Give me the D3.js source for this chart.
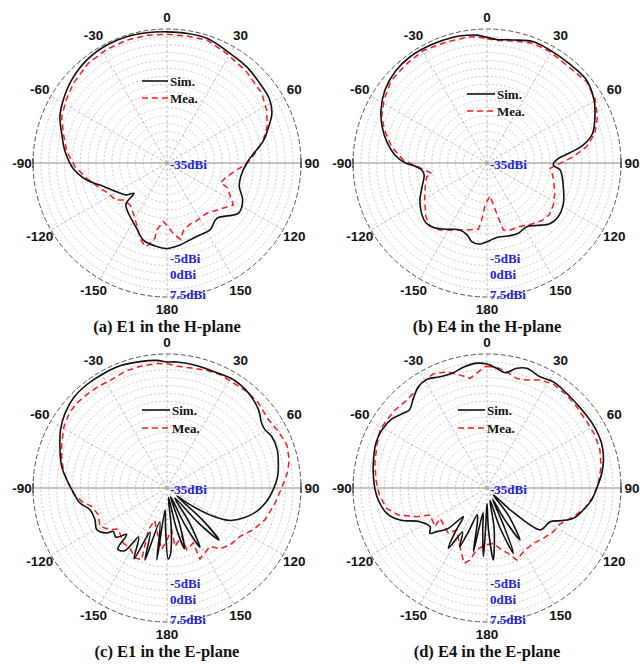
<!DOCTYPE html>
<html><head><meta charset="utf-8">
<script src="https://cdn.jsdelivr.net/npm/d3@7"></script>
<style>body{margin:0;background:#fff}svg{display:block}</style>
</head><body><svg id="c" width="640" height="664"></svg>
<script>
// ---- data: [angle in degrees clockwise from 0, gain in dBi] ----
const angleTicks = [0,30,60,90,120,150,180,-150,-120,-90,-60,-30];
const radialTicks = [-35,-5,0,7.5];
const radialDomain = [-35,7.5];
const seriesNames = ["Sim.","Mea."];
const captions = ["(a) E1 in the H-plane","(b) E4 in the H-plane","(c) E1 in the E-plane","(d) E4 in the E-plane"];

const simA = [[0,6.6],[9,6.6],[18,6.5],[30,5.1],[40,4.6],[49,3.8],[58,3.3],[65,1.7],[70,-0.6],[77,-3.6],[84,-7.5],[90,-9.7],[100,-11.2],[108,-10.9],[116,-8.3],[125,-7.3],[138,-11.4],[147,-9.8],[155,-9.9],[166,-9.3],[171,-8.7],[180,-7.9],[187,-8.3],[197,-9.4],[205,-12.2],[217.5,-14.9],[225,-16.6],[227.4,-20.8],[231.6,-18.7],[240.3,-16.6],[251.8,-12.6],[258,-9.0],[266.7,-5.2],[276.3,-2.5],[285.7,-0.3],[293.4,2.0],[301.3,3.5],[311,5.1],[322,6.4],[333,7.0],[342.3,7.05],[351,6.8]];
const meaA = [[0,5.8],[9,5.75],[18,6.0],[28.5,4.6],[41,3.4],[53.6,2.3],[62,0.8],[70,-1.2],[76.6,-3.6],[83.7,-6.9],[90.2,-9.5],[95.7,-12.8],[103,-15.6],[110,-16.9],[112.4,-14.0],[118,-12.3],[122.3,-10.1],[131,-12.7],[142,-14.7],[153,-14.4],[159,-14.3],[166,-13.1],[170,-10.4],[175,-12.6],[179,-14.8],[183.6,-16.4],[188.8,-13.5],[189.1,-10.8],[192.8,-8.3],[194.7,-7.6],[199.7,-9.6],[205,-12.7],[213.8,-15.8],[221.4,-17.3],[229.7,-16.9],[234.6,-14.8],[242.7,-14.1],[249.3,-12.3],[259.2,-9.1],[267.7,-5.8],[276.4,-3.0],[286,-0.8],[293.7,1.5],[302,2.7],[310.4,4.0],[321.7,5.3],[332,5.8],[341.8,6.0],[351,6.0]];

const simB = [[0,4.85],[4.5,4.3],[12,4.9],[21,6.2],[29,6.0],[40,5.9],[50,6.1],[59.5,4.4],[65.3,2.7],[74.3,-0.2],[79.4,-3.9],[83,-8.5],[87,-12.7],[91.7,-14.0],[95.5,-11.7],[107,-9.7],[119,-7.4],[127,-6.7],[134,-7.3],[141.5,-9.7],[148,-11.2],[156,-10.6],[163.7,-10.9],[172.6,-11.2],[177.8,-10.4],[184.9,-9.2],[191,-9.6],[195.3,-11.3],[202,-12.1],[211.3,-10.4],[219.7,-8.4],[225.6,-7.9],[232.4,-8.8],[241.1,-10.7],[250,-13.1],[259.2,-14.7],[263.9,-14.2],[267.6,-12.1],[270.2,-9.0],[275,-5.7],[282,-2.5],[289.1,0.2],[296.6,2.6],[305.6,4.8],[314.8,6.1],[324.1,6.6],[334.2,6.5],[345,6.3],[351,6.0],[355.4,5.7]];
const meaB = [[0,4.4],[4.5,4.0],[12.2,4.6],[21.2,5.7],[29.5,5.6],[40.2,5.0],[50.8,5.8],[59.1,4.9],[67.2,3.0],[74.6,0.5],[80.7,-3.0],[85.8,-7.5],[90.3,-11.8],[94.8,-14.9],[100.4,-13.8],[112.9,-11.6],[122.3,-10.1],[129.8,-9.3],[136.5,-9.8],[143.8,-11.0],[152.6,-12.3],[161,-12.5],[166.3,-13.1],[169.1,-18.7],[174.8,-24.5],[182.7,-21.7],[185.3,-16.8],[187.4,-13.8],[196.9,-12.8],[206.7,-11.2],[215.1,-9.05],[222.1,-8.05],[228.7,-9.2],[239.3,-12.0],[249,-14.0],[257.2,-15.4],[259.4,-17.1],[264.3,-14.7],[268.1,-12.2],[272,-8.45],[279.7,-4.3],[287.1,-1.2],[293.7,1.5],[301.5,3.3],[310.2,5.0],[320.1,5.5],[330.5,6.0],[341.6,5.5],[350.8,5.4],[355.3,5.2]];

const simC = [[0,4.96],[4.4,5.1],[12.1,5.0],[21.7,4.8],[31.5,5.3],[40.6,4.7],[49.4,3.2],[55.5,1.4],[59.2,1.15],[63.7,2.0],[70.8,2.0],[77.3,1.2],[84,0.3],[90.9,-1.3],[97.6,-3.1],[104.6,-5.6],[111.5,-9.0],[117.2,-12.5],[121.4,-17.8],[126,-26],[129,-31],[132,-20],[135,-11.7],[138,-20],[142,-31],[147,-22],[151,-13.5],[154,-22],[158,-32],[161,-22],[164,-15],[167,-22],[171,-32],[174,-22],[177,-14],[179,-12.5],[182,-22],[185,-28],[188,-12],[192,-24],[197,-11.1],[201,-20],[205,-10.3],[210,-17],[214,-11],[218.9,-10.1],[221,-15.5],[226,-12.5],[231.1,-13.1],[233.3,-11.1],[239.4,-9.1],[246.3,-10.05],[254.3,-9.6],[260.2,-7.0],[269,-4.8],[274.7,-3.1],[281.6,-0.9],[289.7,1.05],[298.7,3.5],[306.3,5.1],[313.9,6.2],[322.1,6.5],[330,6.5],[339,6.5],[347.9,6.0],[355.4,5.6]];
const meaC = [[0,4.4],[5.3,3.75],[11.6,3.85],[18.6,4.4],[25.1,4.7],[32.3,4.4],[39.5,4.7],[47.1,4.6],[56,3.8],[63,4.6],[70.1,5.4],[77,4.8],[82.9,3.45],[90,1.4],[97.9,-0.4],[107.9,-2.3],[115.8,-4.6],[123.5,-7.2],[132,-8.1],[139,-9.4],[143.6,-12.0],[155.1,-10.2],[154.4,-15.7],[162.3,-14.5],[163.1,-19.0],[172.2,-16.3],[173.6,-21.7],[180,-18.6],[185,-15.4],[194,-21.4],[201,-24],[204,-20.5],[199.5,-10.9],[204.6,-10.6],[211.7,-12.6],[218.4,-12.7],[229.9,-14.8],[233.8,-12.6],[240.2,-10.5],[248.8,-11.6],[256.3,-10.4],[261.1,-7.6],[266.9,-5.25],[272.9,-3.7],[278.3,-2.0],[285.1,-0.4],[293.1,1.3],[300.9,3.05],[307.5,4.05],[313.3,4.3],[319.3,4.05],[326,3.9],[332.9,3.6],[340.2,4.3],[347.5,4.5],[355.25,4.6]];

const simD = [[0,4.3],[4.6,3.1],[8.9,2.0],[13.9,4.1],[18.3,5.0],[25.5,4.1],[32,4.7],[41.2,4.2],[51.6,4.0],[59.4,4.2],[68.7,4.0],[76.5,3.0],[82.7,1.7],[89.3,0.0],[96.5,-1.6],[102.9,-3.7],[109.4,-6.0],[114.1,-9.6],[118.1,-12.3],[123.7,-12.9],[128.4,-13.6],[133,-24],[137,-32],[142,-24],[147.6,-15.5],[151,-24],[154,-31],[156,-22],[158,-12.7],[162,-22],[166,-31],[170,-22],[175,-12.1],[178,-22],[180,-30],[182,-22],[183,-13.2],[186,-22],[189,-27],[192,-14.4],[196,-24],[200,-26],[203,-20],[205,-14.5],[209,-19],[212.7,-12.3],[216,-18],[219.5,-23.2],[224,-17],[229,-13.9],[231.5,-11.9],[235.8,-13.2],[243.3,-11.2],[249.8,-5.6],[255.8,-2.2],[263.7,-0.3],[269,0.5],[275.7,1.2],[282.2,1.9],[291.9,3.0],[298.8,3.1],[305.8,2.3],[311.7,0.6],[315.1,-0.1],[320.6,1.8],[325.9,3.8],[331,4.4],[337.1,3.3],[343.7,3.1],[348.9,4.0],[354.5,4.7]];
const meaD = [[0,3.6],[4.6,3.4],[9.6,2.4],[15.1,1.0],[20.2,1.5],[26.1,3.15],[32.5,4.1],[40.6,3.8],[47.8,3.4],[56.4,3.0],[63.9,3.15],[71.4,2.8],[79.4,1.8],[87.6,0.3],[94.7,-1.2],[101.7,-3.3],[108.4,-6.15],[116.3,-9.2],[123.4,-9.8],[131.8,-11.05],[140.1,-12.1],[150.3,-11.7],[157.6,-10.3],[161.9,-13.2],[166.7,-14.8],[173.5,-17.3],[182,-16.9],[189.5,-15.1],[193.3,-11.5],[197,-10.0],[204.7,-14.5],[215.8,-18.6],[220.5,-16.1],[237.2,-17.3],[233.4,-14.45],[244.7,-15.0],[247.8,-10.9],[253.1,-5.6],[258.5,-2.5],[266.3,-0.8],[274.1,0.3],[282.4,1.4],[291.3,2.5],[298.5,3.6],[304.1,3.4],[310.3,3.25],[316.5,2.75],[322.1,3.05],[328,4.1],[334.8,5.0],[340.9,4.05],[346.6,1.8],[351.2,0.2],[359.1,3.5]];

// ---- layout ----
const panels = [
  {cx:167, cy:163, sim:simA, mea:meaA, cap:captions[0], lg:{x0:-25,x1:1,y0:-82,y1:-65}},
  {cx:487, cy:163, sim:simB, mea:meaB, cap:captions[1], lg:{x0:-20,x1:8,y0:-69,y1:-52}},
  {cx:167, cy:488, sim:simC, mea:meaC, cap:captions[2], lg:{x0:-25,x1:3,y0:-78,y1:-60}},
  {cx:487, cy:488, sim:simD, mea:meaD, cap:captions[3], lg:{x0:-29,x1:-2,y0:-78,y1:-60}}
];
const R = 134;
const r = d3.scaleLinear().domain(radialDomain).range([0,R]);
const rad = d => d*Math.PI/180;
const ringVals = d3.range(-32.5, 7.5, 2.5);
const spokeAngles = d3.range(0, 360, 30);
const labelR = a => (Math.abs(a)===90 ? 145 : (a===0||a===180) ? 146 : 147);

const svg = d3.select("#c");
svg.append("rect").attr("width",640).attr("height",664).attr("fill","#fff");

const lineSim = d3.lineRadial().angle(d=>rad(d[0])).radius(d=>r(d[1])).curve(d3.curveCatmullRomClosed.alpha(0.5));
const lineMea = d3.lineRadial().angle(d=>rad(d[0])).radius(d=>r(d[1])).curve(d3.curveLinearClosed);

panels.forEach(p => {
  const g = svg.append("g").attr("transform",`translate(${p.cx},${p.cy})`);
  // rings
  g.selectAll("circle.ring").data(ringVals).join("circle")
    .attr("r", d=>r(d)).attr("fill","none").attr("stroke","#bcbcbc")
    .attr("stroke-width",0.8).attr("stroke-dasharray","2,2");
  // spokes
  g.selectAll("line.spoke").data(spokeAngles.filter(a=>a%180!==90)).join("line")
    .attr("x1",0).attr("y1",0)
    .attr("x2", a=>R*Math.sin(rad(a))).attr("y2", a=>-R*Math.cos(rad(a)))
    .attr("stroke","#b0b0b0").attr("stroke-width",0.8).attr("stroke-dasharray","3,2");
  // outer circle
  g.append("circle").attr("r", r(radialDomain[1])).attr("fill","none")
    .attr("stroke","#555").attr("stroke-width",1).attr("stroke-dasharray","5,2.5");
  // horizontal axis
  g.append("line").attr("x1",-R).attr("x2",R).attr("y1",0).attr("y2",0)
    .attr("stroke","#8a8a8a").attr("stroke-width",1.2);
  [-R,R].forEach(x => g.append("line").attr("x1",x).attr("x2",x).attr("y1",-5).attr("y2",5)
    .attr("stroke","#333").attr("stroke-width",1.2));
  // curves
  g.append("path").attr("d", lineMea(p.mea)).attr("fill","none")
    .attr("stroke","#ff1a1a").attr("stroke-width",1.5).attr("stroke-dasharray","6,4");
  g.append("path").attr("d", lineSim(p.sim)).attr("fill","none")
    .attr("stroke","#111").attr("stroke-width",1.6);
  // angle labels
  g.selectAll("text.ang").data(angleTicks).join("text")
    .attr("x", a => labelR(a)*Math.sin(rad(a)))
    .attr("y", a => -labelR(a)*Math.cos(rad(a)))
    .attr("text-anchor","middle").attr("dominant-baseline","central")
    .attr("font-family","'Liberation Sans', Arial, sans-serif").attr("font-weight","bold")
    .attr("font-size",13.5).attr("fill","#111").text(a=>a);
  // radial labels
  g.selectAll("text.rl").data(radialTicks).join("text")
    .attr("x", 3).attr("y", v => r(v) + (v===radialDomain[1] ? -3 : 1))
    .attr("dominant-baseline","central")
    .attr("font-family","'Liberation Serif', 'Times New Roman', serif").attr("font-weight","bold")
    .attr("font-size",13).attr("fill","#2424e0").text(v=>v+"dBi");
  // legend
  const L = p.lg;
  g.append("line").attr("x1",L.x0).attr("x2",L.x1).attr("y1",L.y0).attr("y2",L.y0)
    .attr("stroke","#111").attr("stroke-width",1.6);
  g.append("line").attr("x1",L.x0).attr("x2",L.x1).attr("y1",L.y1).attr("y2",L.y1)
    .attr("stroke","#ff1a1a").attr("stroke-width",1.5).attr("stroke-dasharray","6,4");
  [[L.y0,seriesNames[0]],[L.y1,seriesNames[1]]].forEach(([y,t]) =>
    g.append("text").attr("x",L.x1+2).attr("y",y).attr("dominant-baseline","central")
      .attr("font-family","'Liberation Serif', 'Times New Roman', serif").attr("font-weight","bold")
      .attr("font-size",13).attr("fill","#111").text(t));
  // caption
  g.append("text").attr("x",0).attr("y",169).attr("text-anchor","middle")
    .attr("font-family","'Liberation Serif', 'Times New Roman', serif").attr("font-weight","bold")
    .attr("font-size",16.5).attr("fill","#111").text(p.cap);
});
</script></body></html>
